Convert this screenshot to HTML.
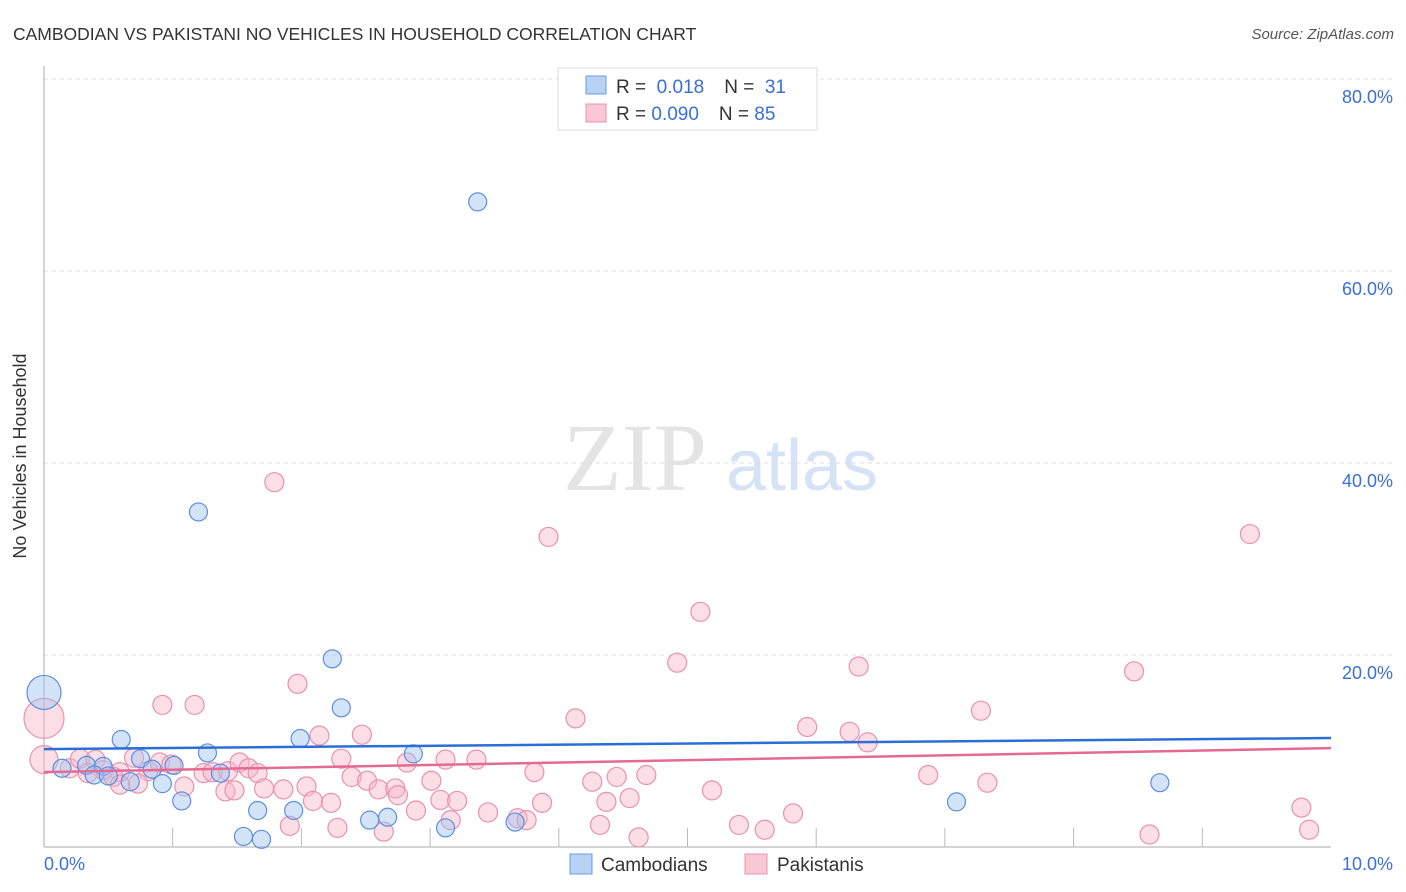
<!DOCTYPE html>
<html><head><meta charset="utf-8"><style>
body{margin:0;background:#fff;font-family:"Liberation Sans",sans-serif;}
svg{display:block}
</style></head><body>
<svg id="chart" width="1406" height="892" xmlns="http://www.w3.org/2000/svg">
<text x="13" y="40" font-size="17.5" fill="#333">CAMBODIAN VS PAKISTANI NO VEHICLES IN HOUSEHOLD CORRELATION CHART</text>
<text x="1394" y="39" font-size="15" fill="#555" font-style="italic" text-anchor="end">Source: ZipAtlas.com</text>
<g>
<text x="635" y="490" font-size="96" font-family="Liberation Serif,serif" fill="#e4e4e4" text-anchor="middle">ZIP</text>
<text x="802" y="490" font-size="72" fill="#d6e2f5" text-anchor="middle">atlas</text>
</g>
<g id="grid"></g>
<g id="axes"></g>
<g id="points"></g>
<g id="trends"></g>
<text x="26" y="456" font-size="18" fill="#333" text-anchor="middle" transform="rotate(-90 26 456)">No Vehicles in Household</text>
<g>
<rect x="558" y="68" width="259" height="62" fill="#fff" stroke="#ddd"/>
<rect x="586" y="76" width="20" height="18" fill="#b8d2f5" stroke="#6a9be0"/>
<rect x="586" y="104" width="20" height="18" fill="#f9c7d5" stroke="#e990ad"/>
<text x="616" y="93" font-size="19" fill="#333">R = <tspan fill="#3a6fd8">&#160;0.018</tspan><tspan dx="20">N = </tspan><tspan fill="#3a6fd8">&#160;31</tspan></text>
<text x="616" y="120" font-size="19" fill="#333">R = <tspan fill="#3a6fd8">0.090</tspan><tspan dx="20">N = </tspan><tspan fill="#3a6fd8">85</tspan></text>
</g>
<g>
<rect x="570" y="854" width="22" height="20" fill="#b8d2f5" stroke="#6a9be0"/>
<text x="601" y="871" font-size="19" fill="#333">Cambodians</text>
<rect x="745" y="854" width="22" height="20" fill="#f9c7d5" stroke="#e990ad"/>
<text x="777" y="871" font-size="19" fill="#333">Pakistanis</text>
</g>
</svg>
<script>
const yTicks=[20,40,60,80];
const yTickLabels=["20.0%","40.0%","60.0%","80.0%"];
const xTickLabels=["0.0%","10.0%"];
const cambX=[0.00,3.37,1.20,2.24,2.31,1.99,0.60,1.27,2.87,0.14,0.33,0.46,0.75,0.84,1.01,1.37,0.39,0.50,0.67,0.92,1.07,1.66,1.94,2.67,2.53,3.66,3.12,1.55,1.69,7.09,8.67];
const cambY=[16.1,67.2,34.9,19.6,14.5,11.3,11.2,9.8,9.7,8.2,8.5,8.4,9.2,8.1,8.5,7.7,7.5,7.4,6.8,6.6,4.8,3.8,3.8,3.1,2.8,2.6,2.0,1.1,0.8,4.7,6.7];
const cambSize=[3.4,1,1,1,1,1,1,1,1,1,1,1,1,1,1,1,1,1,1,1,1,1,1,1,1,1,1,1,1,1,1];
const pakX=[0.00,1.79,3.92,9.37,5.10,4.92,6.33,8.47,1.97,0.92,1.17,4.13,7.28,5.93,6.26,6.40,2.14,2.47,0.00,0.20,0.28,0.40,0.46,0.34,0.59,0.81,0.70,0.90,0.99,0.54,0.73,0.59,1.24,1.31,1.43,1.52,1.59,1.66,1.09,1.41,1.48,1.71,1.86,2.04,2.09,2.23,2.31,2.39,2.51,2.60,2.73,2.75,2.82,3.01,3.08,2.89,3.16,3.21,3.36,3.12,3.81,3.87,4.26,4.37,4.45,4.55,4.68,4.32,4.62,5.19,5.40,5.60,5.82,6.87,7.33,8.59,9.77,9.83,2.28,1.91,2.64,3.45,3.68,3.75];
const pakY=[13.4,38.0,32.3,32.6,24.5,19.2,18.8,18.3,17.0,14.8,14.8,13.4,14.2,12.5,12.0,10.9,11.6,11.7,9.1,8.2,9.2,9.1,8.0,7.7,7.8,7.9,9.3,8.8,8.6,7.3,6.6,6.5,7.7,7.8,7.9,8.8,8.2,7.7,6.3,5.8,5.9,6.1,6.0,6.3,4.8,4.6,9.2,7.3,6.9,6.0,6.1,5.4,8.8,6.9,4.9,3.8,2.8,4.8,9.1,9.1,7.8,4.6,6.8,4.7,7.3,5.1,7.5,2.3,1.0,5.9,2.3,1.8,3.5,7.5,6.7,1.3,4.1,1.8,2.0,2.2,1.6,3.6,3.0,2.8];
const pakSize=[4,1,1,1,1,1,1,1,1,1,1,1,1,1,1,1,1,1,2.5];
const cambTrend=[10.2,11.35];
const pakTrend=[7.8,10.3];

const X0=44,X1=1331,Y0=847,YPX=9.6;
function sx(v){return X0+(X1-X0)*v/10;}
function sy(v){return Y0-v*YPX;}
const NS="http://www.w3.org/2000/svg";
function mk(tag,attrs,parent){const e=document.createElementNS(NS,tag);for(const k in attrs)e.setAttribute(k,attrs[k]);parent.appendChild(e);return e;}
const grid=document.getElementById('grid'),axes=document.getElementById('axes'),pts=document.getElementById('points'),tr=document.getElementById('trends');
yTicks.forEach((t,i)=>{
  const l=mk('line',{x1:X0,x2:1394,y1:sy(t),y2:sy(t),stroke:'#ddd','stroke-dasharray':'4,4'},grid);
  
  
  const tx=mk('text',{x:1393,y:sy(t)+24,'font-size':18,fill:'#3a6fd8','text-anchor':'end'},axes);
  tx.textContent=yTickLabels[i];
  
  
});
mk('line',{x1:X0,x2:X0,y1:66,y2:Y0,stroke:'#aaa'},axes);
mk('line',{x1:X0,x2:X1,y1:Y0,y2:Y0,stroke:'#aaa'},axes);
for(let i=1;i<=9;i++){mk('line',{x1:sx(i),x2:sx(i),y1:Y0-19,y2:Y0,stroke:'#bbb'},axes);}
const xl0=mk('text',{x:44,y:870,'font-size':18,fill:'#3a6fd8'},axes);xl0.textContent=xTickLabels[0];


const xl1=mk('text',{x:1393,y:870,'font-size':18,fill:'#3a6fd8','text-anchor':'end'},axes);xl1.textContent=xTickLabels[1];


pakX.forEach((x,i)=>{
  const c=mk('circle',{cx:sx(x),cy:sy(pakY[i]),r:9.5*(pakSize[i]||1)*(pakSize[i]>1?0.55:1),fill:'rgba(248,182,202,0.45)',stroke:'#e892ae','stroke-width':1.2},pts);
  if(i===0)c.setAttribute('r',20);
  if(i===18)c.setAttribute('r',14);
  
  
});
cambX.forEach((x,i)=>{
  const c=mk('circle',{cx:sx(x),cy:sy(cambY[i]),r:cambSize[i]>1?17:9,fill:'rgba(160,196,240,0.45)',stroke:'#5b8fe0','stroke-width':1.2},pts);
  
  
});
const t1=mk('line',{x1:X0,x2:X1,y1:sy(cambTrend[0]),y2:sy(cambTrend[1]),stroke:'#2a6fd6','stroke-width':2.5},tr);


const t2=mk('line',{x1:X0,x2:X1,y1:sy(pakTrend[0]),y2:sy(pakTrend[1]),stroke:'#e46a94','stroke-width':2.5},tr);


</script>
</body></html>
